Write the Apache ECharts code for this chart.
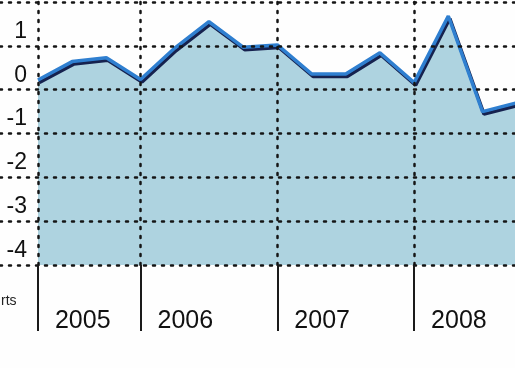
<!DOCTYPE html>
<html>
<head>
<meta charset="utf-8">
<script src="https://cdn.jsdelivr.net/npm/echarts@6/dist/echarts.min.js"></script>
<style>html,body{margin:0;padding:0;background:#fff}#c{width:515px;height:368px}</style>
</head>
<body>
<div id="c"></div>
<script>
// quarterly values (index 0 = first quarter shown)
const quarterIndex = [0,1,2,3,4,5,6,7,8,9,10,11,12,13,14];
const values = [0.22, 0.64, 0.73, 0.23, 0.95, 1.55, 0.97, 1.02, 0.36, 0.36, 0.84, 0.16, 1.68, -0.5, -0.3];
const yearLabels = ['2005', '2006', '2007', '2008'];
const yearStartIndex = [0, 3, 7, 11];
const yTicks = [-4, -3, -2, -1, 0, 1, 2];
const sideNote = 'rts';

const FONT = '"Liberation Sans","Arial",sans-serif';
const chart = echarts.init(document.getElementById('c'), null, {renderer: 'canvas'});
const dotted = {color: '#151515', width: 2.5, type: [2, 7], cap: 'round'};
const X_MIN = -1.11, X_MAX = 13.95;

chart.setOption({
  animation: false,
  backgroundColor: '#fefefe',
  title: {
    text: sideNote, left: -4, top: 289,
    textStyle: {fontFamily: FONT, fontSize: 14, fontWeight: 'normal', color: '#222'}
  },
  grid: [
    {left: 0, right: 0, top: 2, bottom: 103, containLabel: false},
    {left: 0, right: 0, top: 265, height: 66, containLabel: false}
  ],
  xAxis: [{
    type: 'value', min: X_MIN, max: X_MAX, gridIndex: 0,
    axisLine: {show: false},
    splitLine: {show: false},
    axisTick: {show: false},
    axisLabel: {
      show: true, customValues: yearStartIndex,
      formatter: v => yearLabels[yearStartIndex.indexOf(Math.round(v))] || '',
      align: 'left', verticalAlign: 'middle', margin: 56, padding: [0, 0, 0, 17],
      fontFamily: FONT, fontSize: 25, color: '#111'
    }
  }, {
    type: 'value', min: X_MIN, max: X_MAX, gridIndex: 1, show: false
  }],
  yAxis: [{
    type: 'value', min: yTicks[0], max: yTicks[yTicks.length - 1], interval: 1, gridIndex: 0,
    axisLine: {show: false},
    axisTick: {show: false},
    splitLine: {show: false},
    axisLabel: {
      inside: true, align: 'right', verticalAlign: 'bottom', margin: 27,
      padding: [0, 0, 3, 0],
      formatter: v => (v === yTicks[yTicks.length - 1] ? '' : String(v)),
      fontFamily: FONT, fontSize: 23, color: '#111'
    }
  }, {
    type: 'value', min: 0, max: 1, gridIndex: 1, show: false
  }],
  series: [{
    type: 'line',
    xAxisIndex: 0, yAxisIndex: 0,
    data: quarterIndex.map((q, i) => [q, values[i]]),
    symbol: 'none',
    clip: true,
    lineStyle: {color: '#2f7fd0', width: 3.5, shadowColor: '#16224f', shadowOffsetX: 1.5, shadowOffsetY: 2.5, shadowBlur: 0},
    areaStyle: {color: '#aed3e0', origin: 'start', opacity: 1},
    markLine: {
      silent: true, symbol: 'none', label: {show: false},
      lineStyle: dotted,
      data: yearStartIndex.map(x => ({xAxis: x})).concat(yTicks.map(y => ({yAxis: y})))
    },
    z: 2
  }, {
    // year tick marks below the plot
    type: 'line',
    xAxisIndex: 1, yAxisIndex: 1,
    data: yearStartIndex.map(x => [x, 0.5]),
    symbol: 'none',
    lineStyle: {opacity: 0},
    markLine: {
      silent: true, symbol: 'none', label: {show: false},
      lineStyle: {color: '#1a1a1a', width: 2, type: 'solid'},
      data: yearStartIndex.map(x => ({xAxis: x}))
    }
  }]
});
</script>
</body>
</html>
